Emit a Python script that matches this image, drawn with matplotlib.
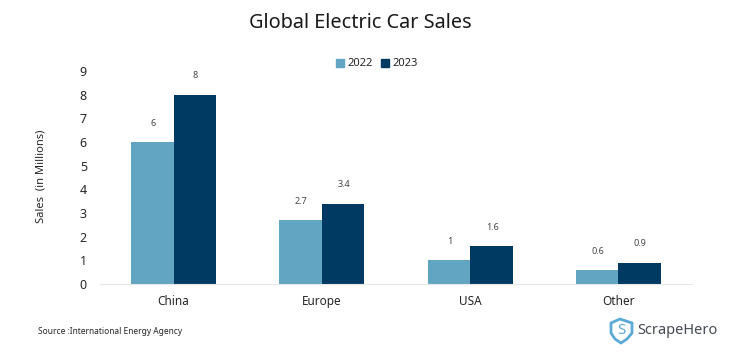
# Global electric car sales chart
import matplotlib
matplotlib.use('Agg')
import matplotlib.pyplot as plt
from matplotlib.patches import Polygon, Patch

plt.rcParams['font.family'] = ['Noto Sans', 'DejaVu Sans']

# data
regions = ['China', 'Europe', 'USA', 'Other']
sales_2022 = [6, 2.7, 1, 0.6]
sales_2023 = [8, 3.4, 1.6, 0.9]
y_ticks = [0, 1, 2, 3, 4, 5, 6, 7, 8, 9]

color_2022 = '#62a5c2'
color_2023 = '#003a63'
text_color = '#262626'

W, H = 744, 361
fig = plt.figure(figsize=(W / 100, H / 100), dpi=100)
ax = fig.add_axes([99.5 / W, 1 - 284 / H, 593 / W, 213 / H])

pos = list(range(len(regions)))
width = 0.287
bars1 = ax.bar([p - width / 2 for p in pos], sales_2022, width, color=color_2022, label='2022')
bars2 = ax.bar([p + width / 2 for p in pos], sales_2023, width, color=color_2023, label='2023')

# value labels above the bars
for bars, values in [(bars1, sales_2022), (bars2, sales_2023)]:
    for b, v in zip(bars, values):
        ax.annotate(str(v), (b.get_x() + b.get_width() / 2, v), xytext=(0.5, 13.5),
                    textcoords='offset points', ha='center', va='center',
                    fontsize=6.5, color='#444444')

ax.set_xlim(-0.5, len(regions) - 0.5)
ax.set_ylim(0, 9)
ax.set_xticks(pos)
ax.set_xticklabels(regions)
ax.set_yticks(y_ticks)
ax.tick_params(axis='both', length=0, colors=text_color)
ax.tick_params(axis='x', labelsize=8.5, pad=8)
ax.tick_params(axis='y', labelsize=9, pad=9)
for s in ['top', 'right', 'left']:
    ax.spines[s].set_visible(False)
ax.spines['bottom'].set_color('#e6e6e6')
ax.spines['bottom'].set_linewidth(0.8)

ax.legend(handles=[Patch(color=color_2022, label='2022'), Patch(color=color_2023, label='2023')],
          loc='center', bbox_to_anchor=(377 / W, 1 - 64 / H), bbox_transform=fig.transFigure,
          ncol=2, frameon=False, fontsize=8, handlelength=0.72, handleheight=0.72,
          handletextpad=0.3, columnspacing=0.8, labelcolor=text_color)

fig.text(360.5 / W, 1 - 23 / H, 'Global Electric Car Sales', ha='center', va='center',
         fontsize=14.3, color='#1a1a1a')
fig.text(41 / W, 1 - 176 / H, 'Sales  (in Millions)', rotation=90, ha='center', va='center',
         fontsize=8, color=text_color)
fig.text(38 / W, 1 - 331 / H, 'Source :International Energy Agency', ha='left', va='center',
         fontsize=6.05, color=text_color)

# ScrapeHero logo
shield = [(611, 323), (620, 319), (632, 323), (632, 333), (627, 339), (621, 343), (615, 339), (611, 333)]
fig.add_artist(Polygon([(x / W, 1 - y / H) for x, y in shield], closed=True, transform=fig.transFigure,
                       facecolor='white', edgecolor='#5aa9d6', linewidth=2))
fig.text(621.5 / W, 1 - 330.5 / H, 'S', ha='center', va='center', fontsize=11, fontweight='bold', color='#5aa9d6')
fig.text(637 / W, 1 - 330 / H, 'ScrapeHero', ha='left', va='center', fontsize=10.5,
         fontweight='medium', color='#454a55')

fig.savefig('out.png', dpi=100)
